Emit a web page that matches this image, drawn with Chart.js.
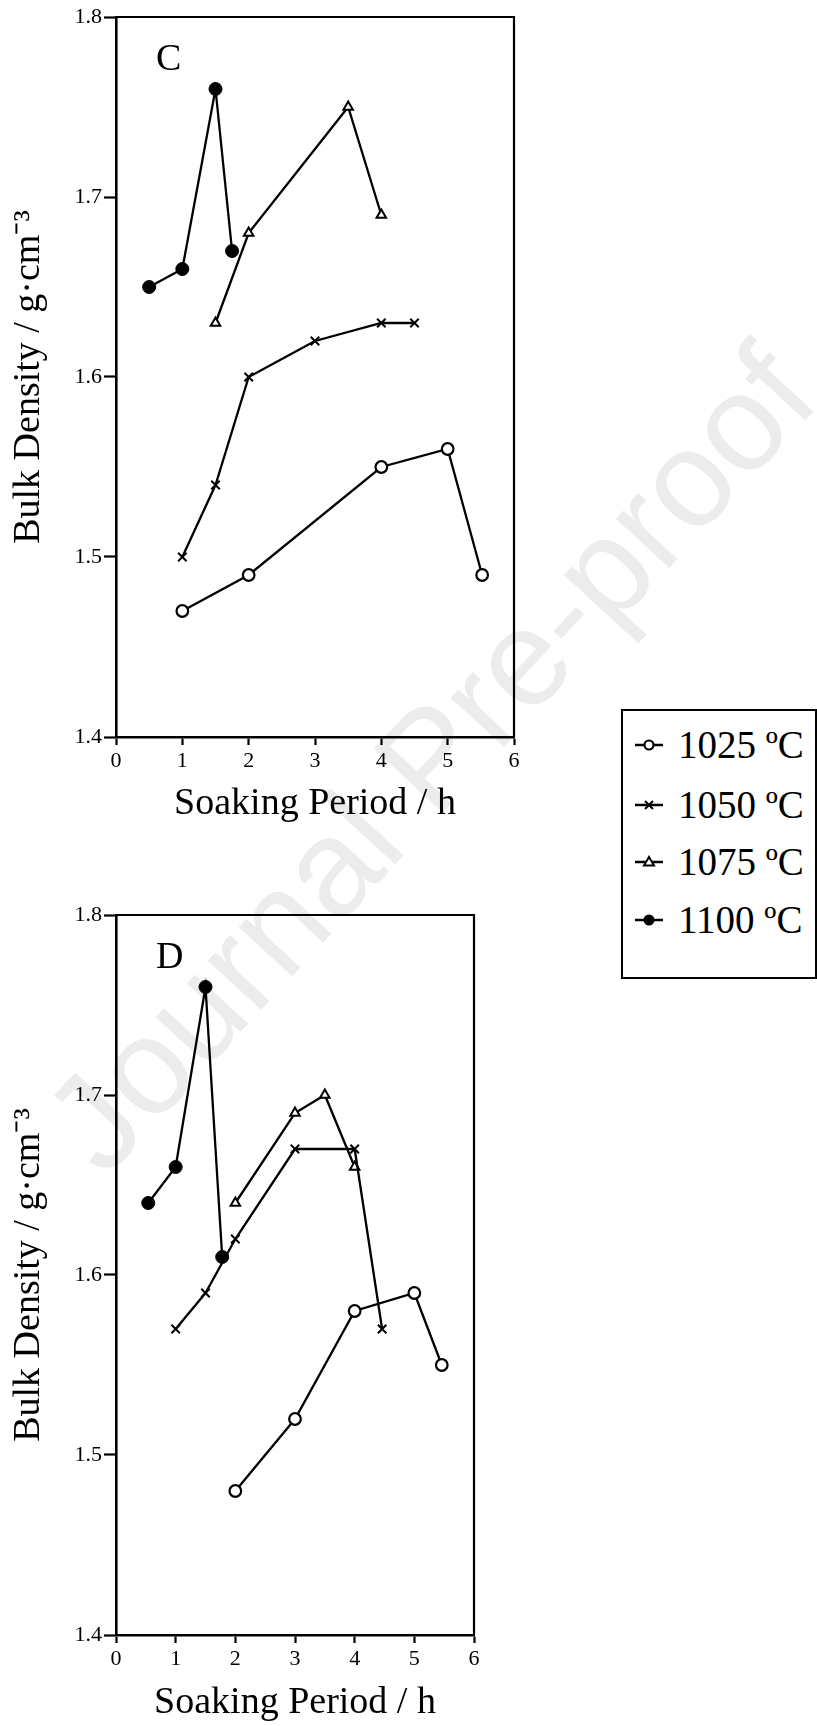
<!DOCTYPE html>
<html><head><meta charset="utf-8">
<script src="https://cdn.jsdelivr.net/npm/chart.js@4.4.1/dist/chart.umd.min.js"></script>
<style>
html,body{margin:0;padding:0;background:#fff;}
body{width:817px;height:1726px;position:relative;overflow:hidden;font-family:"Liberation Serif","Times New Roman",serif;}
#wm{position:absolute;left:429px;top:758px;transform:translate(-50%,-50%) rotate(-47.3deg);font-family:"Liberation Sans",Arial,sans-serif;font-size:137px;color:#ececec;white-space:nowrap;z-index:0;line-height:1;}
.wrap{position:absolute;left:0;z-index:1;}
.wrap canvas{display:block;}
#legend{position:absolute;left:621px;top:709px;width:192px;height:266px;border:2px solid #000;z-index:2;}
.item{position:absolute;left:0;height:40px;width:192px;}
.item svg{position:absolute;left:10px;top:0;}
.item span{position:absolute;left:55px;top:0;font-size:39px;line-height:40px;color:#000;white-space:nowrap;}
</style>
</head><body>
<div id="wm">Journal Pre-proof</div>
<div class="wrap" style="top:0px"><canvas id="chartC" width="530" height="850"></canvas></div>
<div class="wrap" style="top:860px"><canvas id="chartD" width="530" height="866"></canvas></div>
<div id="legend"></div>
<script>
// ---- tick labels / categories ----
const xTicks = [0, 1, 2, 3, 4, 5, 6];
const yTicks = [1.4, 1.5, 1.6, 1.7, 1.8];
const seriesNames = ['1025 ºC', '1050 ºC', '1075 ºC', '1100 ºC'];

// ---- Panel C ----
const cX1025 = [1, 2, 4, 5, 5.52];
const cY1025 = [1.47, 1.49, 1.55, 1.56, 1.49];
const cX1050 = [1, 1.5, 2, 3, 4, 4.5];
const cY1050 = [1.50, 1.54, 1.60, 1.62, 1.63, 1.63];
const cX1075 = [1.5, 2, 3.5, 4];
const cY1075 = [1.63, 1.68, 1.75, 1.69];
const cX1100 = [0.5, 1, 1.5, 1.75];
const cY1100 = [1.65, 1.66, 1.76, 1.67];

// ---- Panel D ----
const dX1025 = [2, 3, 4, 5, 5.46];
const dY1025 = [1.48, 1.52, 1.58, 1.59, 1.55];
const dX1050 = [1, 1.5, 2, 3, 4, 4.46];
const dY1050 = [1.57, 1.59, 1.62, 1.67, 1.67, 1.57];
const dX1075 = [2, 3, 3.5, 4];
const dY1075 = [1.64, 1.69, 1.70, 1.66];
const dX1100 = [0.54, 1, 1.5, 1.78];
const dY1100 = [1.64, 1.66, 1.76, 1.61];

const styles = [
  {pointStyle:'circle', pointRadius:5.8, pointBorderWidth:2.2, pointBackgroundColor:'#fff'},
  {pointStyle:'crossRot', pointRadius:6, pointBorderWidth:2, pointBackgroundColor:'#000'},
  {pointStyle:'triangle', pointRadius:5.5, pointBorderWidth:2, pointBackgroundColor:'#fff'},
  {pointStyle:'circle', pointRadius:6.5, pointBorderWidth:1, pointBackgroundColor:'#000'}
];

function pts(xs, ys){ return xs.map((x,i)=>({x:x, y:ys[i]})); }

function makeDatasets(series){
  return series.map((s,i)=>Object.assign({
    label: seriesNames[i],
    data: pts(s[0], s[1]),
    borderColor:'#000', borderWidth:2.3, tension:0, fill:false,
    pointBorderColor:'#000', pointHoverRadius:0
  }, styles[i]));
}

const FONT = '"Liberation Serif", "Times New Roman", serif';

function framePlugin(letter){
  return {
    id:'frame'+letter,
    beforeDatasetsDraw(chart){
      const {ctx, chartArea:a} = chart;
      ctx.save();
      ctx.strokeStyle='#000'; ctx.lineWidth=2.2;
      ctx.beginPath();
      ctx.moveTo(a.left, a.top); ctx.lineTo(a.right, a.top); ctx.lineTo(a.right, a.bottom);
      ctx.stroke();
      ctx.fillStyle='#000';
      ctx.font = '38px ' + FONT;
      ctx.textBaseline='alphabetic'; ctx.textAlign='left';
      ctx.fillText(letter, a.left + 40, a.top + 53);
      ctx.restore();
    }
  };
}

function makeOptions(cfg){
  return {
    responsive:false, animation:false, devicePixelRatio:1,
    layout:{padding:{top:cfg.pt, right:cfg.pr, left:0, bottom:0}},
    plugins:{legend:{display:false}, tooltip:{enabled:false}},
    scales:{
      x:{
        type:'linear', min:0, max:6,
        afterBuildTicks:(s)=>{ s.ticks = xTicks.map(v=>({value:v})); },
        afterFit:(s)=>{ s.height = cfg.xh; },
        grid:{drawOnChartArea:false, drawTicks:true, tickLength:8, tickWidth:2.2, tickColor:'#000'},
        border:{display:true, color:'#000', width:2.6},
        ticks:{color:'#000', font:{family:FONT, size:22}, padding:3, maxRotation:0, autoSkip:false,
               callback:(v)=>String(v)},
        title:{display:true, text:'Soaking Period / h', color:'#000',
               font:{family:FONT, size:38}, padding:{top:0, bottom:cfg.xtb}}
      },
      y:{
        type:'linear', min:1.4, max:1.8,
        afterBuildTicks:(s)=>{ s.ticks = yTicks.map(v=>({value:v})); },
        afterFit:(s)=>{ s.width = 116; },
        grid:{drawOnChartArea:false, drawTicks:true, tickLength:12, tickWidth:2.2, tickColor:'#000'},
        border:{display:true, color:'#000', width:2.6},
        ticks:{color:'#000', font:{family:FONT, size:22}, padding:2, autoSkip:false,
               callback:(v)=>Number(v).toFixed(1)},
        title:{display:true, text:'Bulk Density / g·cm⁻³', color:'#000',
               font:{family:FONT, size:38}, padding:{top:6, bottom:0}}
      }
    }
  };
}

new Chart(document.getElementById('chartC'), {
  type:'line',
  data:{datasets: makeDatasets([[cX1025,cY1025],[cX1050,cY1050],[cX1075,cY1075],[cX1100,cY1100]])},
  options: makeOptions({pt:17, pr:16, xh:113, xtb:23}),
  plugins:[framePlugin('C')]
});

new Chart(document.getElementById('chartD'), {
  type:'line',
  data:{datasets: makeDatasets([[dX1025,dY1025],[dX1050,dY1050],[dX1075,dY1075],[dX1100,dY1100]])},
  options: makeOptions({pt:55, pr:56, xh:91, xtb:0}),
  plugins:[framePlugin('D')]
});

// ---- HTML legend ----
const markerSvg = [
  '<circle cx="16" cy="20" r="4.5" fill="#fff" stroke="#000" stroke-width="2.2"/>',
  '<path d="M12 16 L20 24 M20 16 L12 24" stroke="#000" stroke-width="2"/>',
  '<path d="M16 15 L21 23.5 L11 23.5 Z" fill="#fff" stroke="#000" stroke-width="2"/>',
  '<circle cx="16" cy="20" r="5.5" fill="#000"/>'
];
const itemTops = [14, 74, 131, 189];
const leg = document.getElementById('legend');
seriesNames.forEach((name,i)=>{
  const d = document.createElement('div');
  d.className='item'; d.style.top = itemTops[i]+'px';
  d.innerHTML = '<svg width="32" height="40" viewBox="0 0 32 40"><line x1="2" y1="20" x2="30" y2="20" stroke="#000" stroke-width="2.5"/>'
    + markerSvg[i] + '</svg><span>' + name + '</span>';
  leg.appendChild(d);
});
</script>
</body></html>
